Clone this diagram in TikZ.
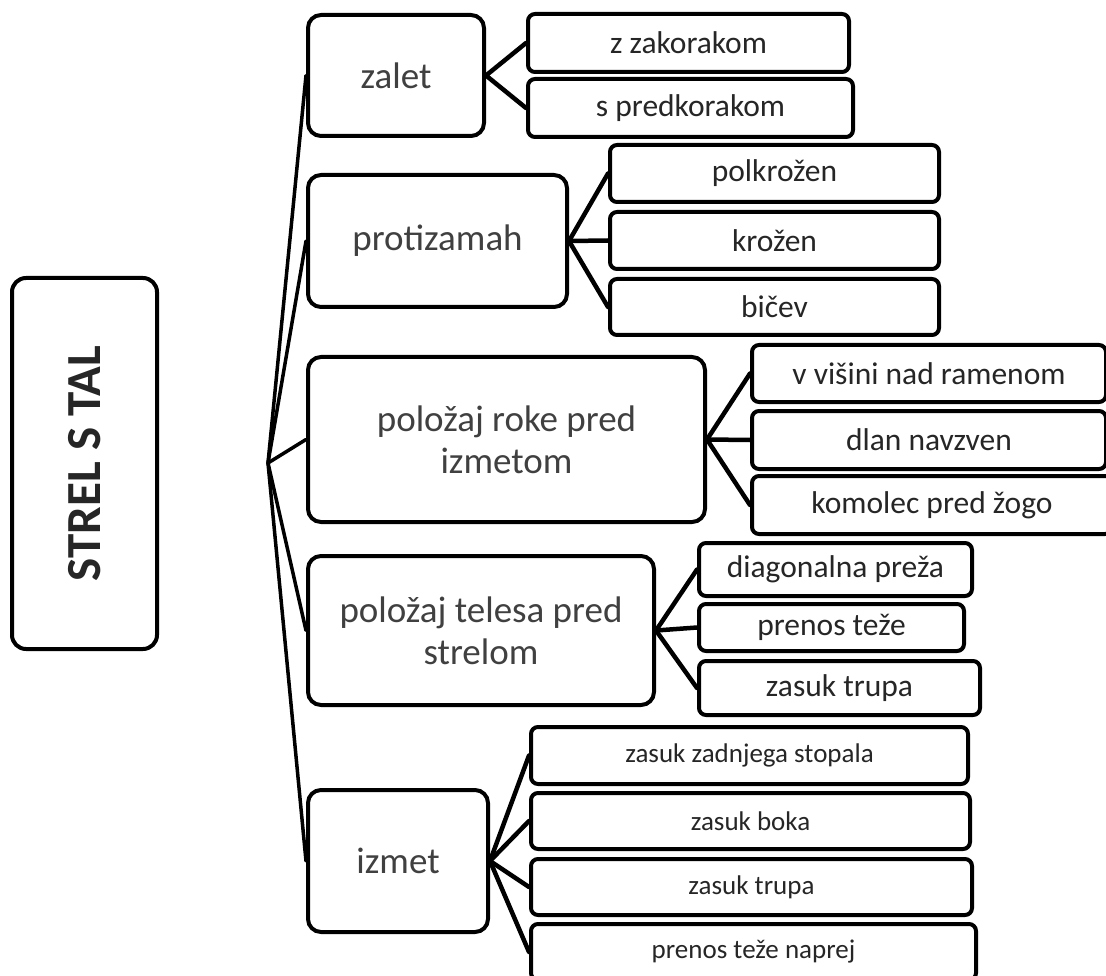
\documentclass[tikz,border=0pt]{standalone}
\usepackage{fontspec}
\setmainfont{Carlito}
\usepackage{tikz}
\usetikzlibrary{shadows}

\begin{document}
\begin{tikzpicture}[x=1pt, y=-1pt,
  root/.style={rectangle, rounded corners=14pt, draw, line width=4pt, fill=white,
            rotate=90, inner sep=0pt, text=black!85, font=\fontsize{49}{54}\selectfont\bfseries},
  grp/.style={rectangle, rounded corners=13pt, draw, line width=4pt, fill=white,
            anchor=north west, inner sep=0pt, align=center, text=black!75,
            drop shadow={shadow xshift=1pt, shadow yshift=-1.5pt, fill=black!45, opacity=1},
            font=\fontsize{37}{42}\selectfont},
  leaf/.style={rectangle, rounded corners=7pt, draw, line width=4pt, fill=white,
            anchor=north west, inner sep=0pt, align=center, text=black!85,
            drop shadow={shadow xshift=1pt, shadow yshift=-1.5pt, fill=black!45, opacity=1},
            font=\fontsize{31.5}{36}\selectfont},
  small/.style={font=\fontsize{27}{32}\selectfont},
  ln/.style={line width=4.5pt, line cap=round},
  fan/.style={line width=3.5pt, line cap=round}]
  \useasboundingbox (0,0) rectangle (1106,976);

  \node[root, minimum width=371pt, minimum height=145pt] (strel) at (84.5,463.5) {STREL S TAL};
  \coordinate (hub) at (268,463);

  % main groups
  \node[grp, minimum width=176pt, minimum height=121pt] (zal) at (306,13) {zalet};
  \node[grp, minimum width=259pt, minimum height=132pt] (pro) at (306,173) {protizamah};
  \node[grp, minimum width=397pt, minimum height=165pt] (rok) at (306,355) {položaj roke pred\\izmetom};
  \node[grp, minimum width=346pt, minimum height=149pt] (tel) at (306,554) {položaj telesa pred\\strelom};
  \node[grp, minimum width=180pt, minimum height=142pt] (izm) at (306,788) {izmet};

  % zalet
  \node[leaf, minimum width=321pt, minimum height=58pt] (zak) at (526,12) {z zakorakom};
  \node[leaf, minimum width=325pt, minimum height=58pt] (pred) at (526,77) {s predkorakom};
  % protizamah
  \node[leaf, minimum width=329pt, minimum height=57pt] (pol) at (608,143) {polkrožen};
  \node[leaf, minimum width=329pt, minimum height=57pt] (kro) at (608,210) {krožen};
  \node[leaf, minimum width=329pt, minimum height=56pt] (bic) at (608,277) {bičev};
  % roka
  \node[leaf, minimum width=354pt, minimum height=57pt] (vis) at (750,343) {v višini nad ramenom};
  \node[leaf, minimum width=354pt, minimum height=58pt] (dla) at (750,409) {dlan navzven};
  \node[leaf, minimum width=360pt, minimum height=58pt] (kom) at (750,474) {komolec pred žogo};
  % telo
  \node[leaf, minimum width=273pt, minimum height=53pt] (dia) at (697,541) {diagonalna preža};
  \node[leaf, minimum width=265pt, minimum height=47pt] (pre) at (697,602) {prenos teže};
  \node[leaf, minimum width=281pt, minimum height=54pt] (trp) at (697,659) {zasuk trupa};
  % izmet
  \node[leaf, small, minimum width=437pt, minimum height=57pt] (sto) at (529,725) {zasuk zadnjega stopala};
  \node[leaf, small, minimum width=439pt, minimum height=56pt] (bok) at (529,791) {zasuk boka};
  \node[leaf, small, minimum width=441pt, minimum height=56pt] (trp2) at (529,857) {zasuk trupa};
  \node[leaf, small, minimum width=445pt, minimum height=56pt] (npr) at (529,922) {prenos teže naprej};

  \foreach \g in {zal, pro, rok, tel, izm}
    \draw[fan] (hub) -- (\g.west);
  \foreach \c in {zak, pred}
    \draw[ln] (zal.east) -- (\c.west);
  \foreach \c in {pol, kro, bic}
    \draw[ln] (pro.east) -- (\c.west);
  \foreach \c in {vis, dla, kom}
    \draw[ln] (rok.east) -- (\c.west);
  \foreach \c in {dia, pre, trp}
    \draw[ln] (tel.east) -- (\c.west);
  \foreach \c in {sto, bok, trp2, npr}
    \draw[ln] (izm.east) -- (\c.west);
\end{tikzpicture}
\end{document}
